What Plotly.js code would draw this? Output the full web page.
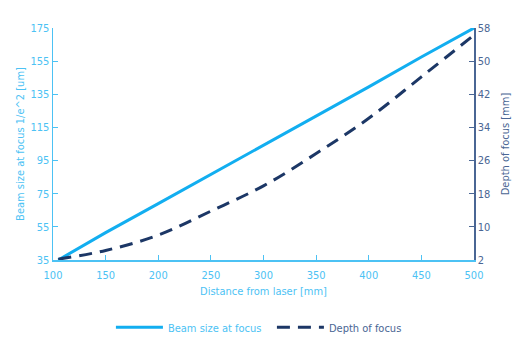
<!DOCTYPE html>
<html><head><meta charset="utf-8">
<script src="https://cdn.plot.ly/plotly-3.0.1.min.js"></script>
<style>html,body{margin:0;padding:0;background:#fff}#chart{width:519px;height:363px}
svg text{font-stretch:condensed !important}</style>
</head><body><div id="chart"></div>
<script>
const distance = [105, 150, 200, 250, 300, 350, 400, 450, 500];
const beamSize = [35, 51.5, 69, 86.5, 104, 122, 139.5, 157.5, 175];
const depthOfFocus = [2.2, 4.3, 8.0, 13.8, 19.9, 27.7, 36.2, 46.2, 56.3];
const xTicks = [100, 150, 200, 250, 300, 350, 400, 450, 500];
const yLeftTicks = [35, 55, 75, 95, 115, 135, 155, 175];
const yRightTicks = [2, 10, 18, 26, 34, 42, 50, 58];

const light = '#12aef0';
const lightText = '#4cc2f4';
const navy = '#1c3766';
const slate = '#4a6694';
const font = '"DejaVu Sans Condensed","DejaVu Sans",sans-serif';

const data = [
  {x: distance, y: beamSize, name: 'Beam size at focus', type: 'scatter', mode: 'lines',
   line: {color: light, width: 3}},
  {x: distance, y: depthOfFocus, name: '<span style="color:' + slate + '">Depth of focus</span>', type: 'scatter', mode: 'lines', yaxis: 'y2',
   line: {color: navy, width: 3, dash: '13px,8px', shape: 'spline'}}
];
const layout = {
  width: 519, height: 363,
  margin: {l: 53, r: 45, t: 28, b: 103},
  paper_bgcolor: '#fff', plot_bgcolor: '#fff',
  font: {family: font, size: 11, color: lightText},
  showlegend: true,
  legend: {orientation: 'h', x: 0.52, xanchor: 'center', y: -0.29, yanchor: 'middle',
           font: {family: font, size: 11}, traceorder: 'normal', itemwidth: 47, entrywidth: 99},
  xaxis: {range: [100, 500], tickvals: xTicks, ticktext: xTicks.map(String),
          showgrid: false, zeroline: false, showline: true, linecolor: lightText, linewidth: 1.5,
          ticks: 'inside', ticklen: 5, tickcolor: lightText, ticklabelstandoff: 4,
          tickfont: {color: lightText, size: 11, family: font},
          title: {text: 'Distance from laser [mm]', font: {color: lightText, size: 11, family: font}, standoff: 6}},
  yaxis: {range: [35, 175], tickvals: yLeftTicks, ticktext: yLeftTicks.map(String),
          showgrid: false, zeroline: false, showline: true, linecolor: lightText, linewidth: 1.5,
          ticks: 'inside', ticklen: 5, tickcolor: lightText,
          tickfont: {color: lightText, size: 11, family: font},
          title: {text: 'Beam size at focus 1/e^2 [um]', font: {color: lightText, size: 11, family: font}, standoff: 3}},
  yaxis2: {range: [2, 58], tickvals: yRightTicks, ticktext: yRightTicks.map(String), overlaying: 'y', side: 'right',
          showgrid: false, zeroline: false, showline: true, linecolor: slate, linewidth: 1.5,
          ticks: 'inside', ticklen: 5, tickcolor: slate,
          tickfont: {color: slate, size: 11, family: font},
          title: {text: 'Depth of focus [mm]', font: {color: slate, size: 11, family: font}, standoff: 12}}
};
Plotly.newPlot('chart', data, layout, {displayModeBar: false, staticPlot: true});
</script></body></html>
